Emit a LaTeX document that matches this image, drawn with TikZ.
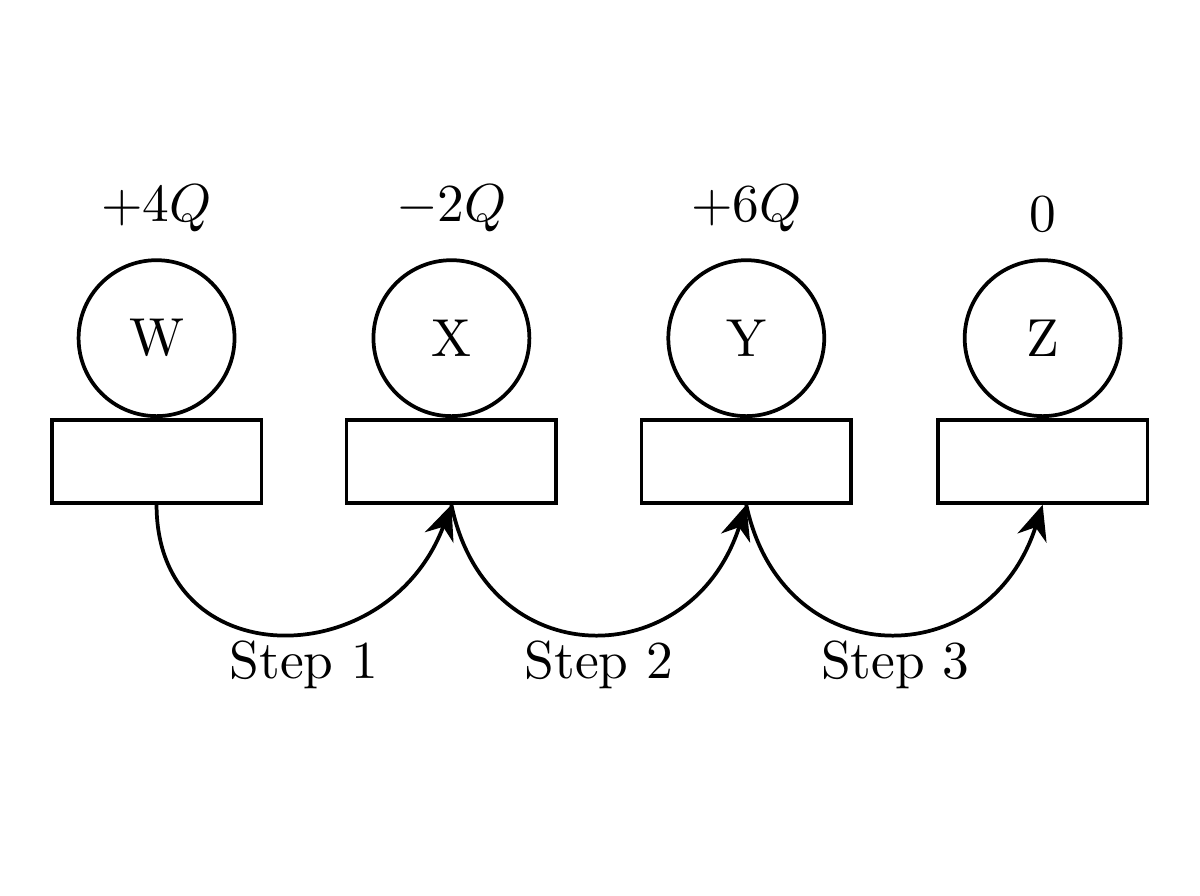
\documentclass[tikz,border=0pt]{standalone}
\usepackage{amsmath}
\usetikzlibrary{arrows.meta,positioning,calc}

\tikzset{
	ball/.style={draw, circle, line width=0.7pt, minimum size=1.026cm, inner sep=0pt},
	stand/.style={draw, rectangle, line width=0.7pt, minimum width=1.38cm, minimum height=0.546cm, inner sep=0pt},
	move/.style={line width=0.7pt, -{Stealth[length=2.3mm,width=2mm]}}
}

\begin{document}
\begin{tikzpicture}
	\useasboundingbox (0,0) rectangle (7.895,5.895);
	%\draw[help lines] (0,0) grid (8,6);
	\foreach \name/\x/\q in {W/1.03/{$+4Q$}, X/2.97/{$-2Q$}, Y/4.91/{$+6Q$}, Z/6.86/{$0$}}{
		\node[ball] (\name) at (\x, 3.67) {\name};
		\node[stand, below=0pt of \name] (s\name) {};
		\node[above=0.05cm of \name] (q\name) {\q};
	}

	\draw[move] (sW.south) .. controls (1.03,1.45) and (2.55,1.45) .. (sX.south);
	\draw[move] (sX.south) .. controls (3.2,1.45) and (4.55,1.45) .. (sY.south);
	\draw[move] (sY.south) .. controls (5.15,1.45) and (6.5,1.45) .. (sZ.south);

	\node (step1) at (2.0,1.52) {Step 1};
	\node (step2) at (3.94,1.52) {Step 2};
	\node (step3) at (5.89,1.52) {Step 3};
\end{tikzpicture}
\end{document}
